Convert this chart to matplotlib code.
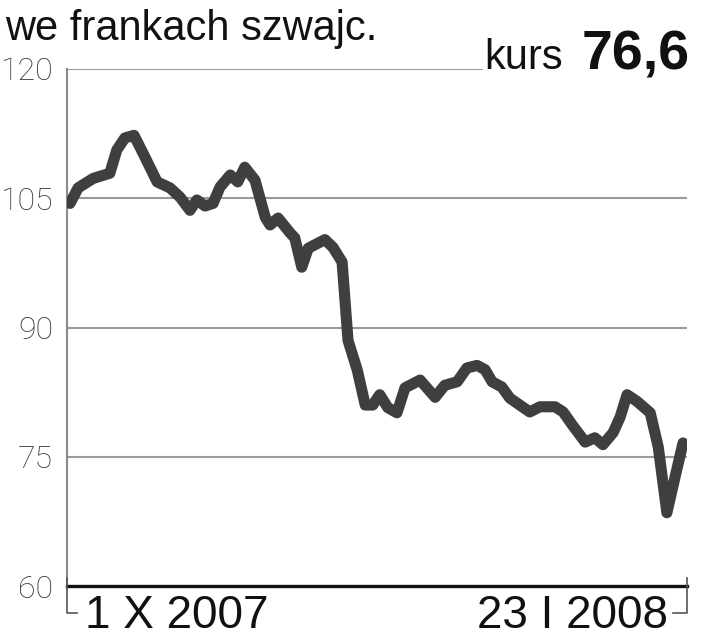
import matplotlib
matplotlib.use('Agg')
import matplotlib.pyplot as plt

# dni od 1 X 2007 i kurs w frankach szwajcarskich
dni = [0, 1.5, 4.3, 7.4, 8.7, 10.2, 11.9, 13.6, 16.2, 18.6, 20.5, 22.3, 23.6, 25.1,
       26.6, 27.9, 29.8, 31.2, 32.5, 34.4, 36.3, 37.2, 38.7, 40.9, 41.8, 43.1, 44.3,
       47.4, 48.9, 50.6, 51.7, 53.4, 54.9, 56.3, 57.6, 59.1, 60.8, 62.3, 65.1, 67.9,
       69.7, 72.0, 73.8, 75.7, 77.2, 78.5, 80.3, 81.8, 84.1, 85.5, 87.4, 90.2, 91.7,
       93.4, 95.8, 97.6, 99.1, 101.0, 102.3, 103.6, 105.5, 107.9, 109.4, 111.0, 112.5,
       114.0]
kurs = [104.4, 106.2, 107.3, 107.9, 110.6, 112.0, 112.3, 110.2, 106.9, 106.2, 105.1,
        103.6, 104.8, 104.1, 104.4, 106.3, 107.7, 106.9, 108.6, 107.1, 102.8, 101.9,
        102.7, 101.0, 100.4, 97.0, 99.2, 100.2, 99.3, 97.6, 88.5, 85.1, 81.0, 81.0,
        82.2, 80.7, 80.1, 83.0, 83.9, 81.9, 83.3, 83.7, 85.3, 85.6, 85.1, 83.7, 83.1,
        81.8, 80.8, 80.2, 80.8, 80.8, 80.2, 78.7, 76.7, 77.2, 76.4, 77.8, 79.6, 82.2,
        81.4, 80.1, 76.1, 68.5, 72.6, 76.6]

poziomy = [60, 75, 90, 105, 120]
etykiety_y = ['60', '75', '90', '105', '120']
data_start = '1 X 2007'
data_koniec = '23 I 2008'
tytul = 'we frankach szwajc.'
ostatni_kurs = '76,6'

plt.rcParams['font.family'] = ['Liberation Sans', 'DejaVu Sans']

W, H = 704, 640
fig = plt.figure(figsize=(W / 100, H / 100), dpi=100)
ax = fig.add_axes([67 / W, 1 - 586 / H, 620 / W, 517 / H])

# linie siatki
for p in poziomy[1:-1]:
    ax.axhline(p, color='#9a9a9a', linewidth=1.5, zorder=1)
ax.axhline(poziomy[-1], xmin=0, xmax=0.67, color='#9a9a9a', linewidth=1.5, zorder=1)

ax.plot(dni, kurs, color='#3f3f3f', linewidth=8, solid_joinstyle='round',
        solid_capstyle='round', zorder=3)

ax.set_xlim(-0.56, 114.74)
ax.set_ylim(60, 120)
ax.set_yticks(poziomy)
ax.set_yticklabels(etykiety_y)
ax.set_xticks([])
ax.tick_params(axis='y', length=0, pad=10, labelsize=23, labelcolor='#333333')
for lab in ax.get_yticklabels():
    lab.set_family(['Roboto', 'Liberation Sans'])
    lab.set_fontweight('light')

for s in ['top', 'right']:
    ax.spines[s].set_visible(False)
ax.spines['left'].set_color('#8c8c8c')
ax.spines['left'].set_linewidth(1.5)
ax.spines['bottom'].set_color('#111111')
ax.spines['bottom'].set_linewidth(2.4)

# klamry przy osi czasu
y0 = 1 - 578 / H
y1 = 1 - 613 / H
fig.add_artist(plt.Line2D([67 / W, 67 / W, 77 / W], [y0, y1, y1], color='#555555', linewidth=1.2))
fig.add_artist(plt.Line2D([687 / W, 687 / W, 673 / W], [y0, y1, y1], color='#555555', linewidth=1.2))

fig.text(85 / W, 1 - 628 / H, data_start, fontsize=33, color='#111111', ha='left', va='baseline')
fig.text(668 / W, 1 - 628 / H, data_koniec, fontsize=33, color='#111111', ha='right', va='baseline')

fig.text(5 / W, 1 - 40 / H, tytul, fontsize=30, color='#111111', ha='left', va='baseline')
fig.text(563 / W, 1 - 69 / H, 'kurs', fontsize=30, color='#111111', ha='right', va='baseline')
fig.text(690 / W, 1 - 69 / H, ostatni_kurs, fontsize=40, fontweight='bold', color='#111111',
         ha='right', va='baseline')

fig.savefig('out.png', dpi=100)
